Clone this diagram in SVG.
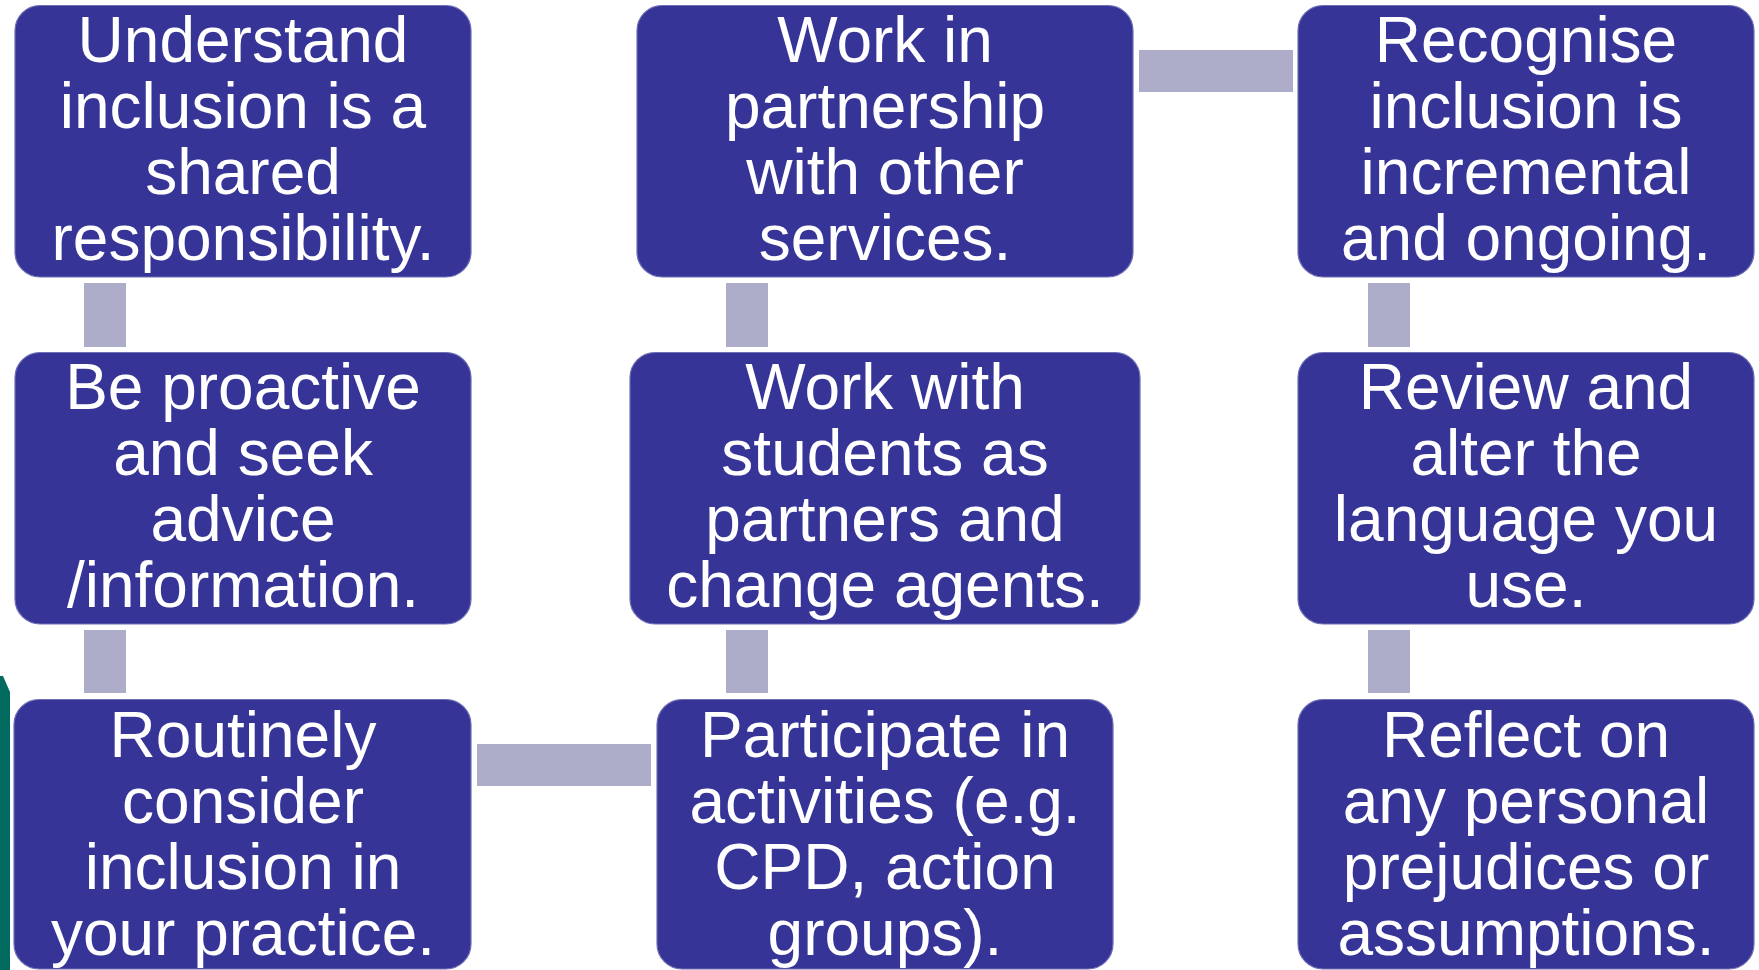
<svg xmlns="http://www.w3.org/2000/svg" width="1759" height="970" viewBox="0 0 1759 970">
<style>
.box{fill:#363597;stroke:#6F6FB5;stroke-width:1.2}
.con{fill:#ADADCA}
.t{font-family:"Liberation Sans",Arial,sans-serif;font-size:64px;fill:#FFFFFF;text-anchor:middle}
</style>
<rect width="1759" height="970" fill="#FFFFFF"/>
<path d="M0 676 L3 676 L10 692 L10 970 L0 970 Z" fill="#006B5E"/>
<g id="connectors">
<rect class="con" x="84" y="283" width="42" height="64"/>
<rect class="con" x="84" y="630" width="42" height="63"/>
<rect class="con" x="477" y="744" width="174" height="42"/>
<rect class="con" x="726" y="630" width="42" height="63"/>
<rect class="con" x="726" y="283" width="42" height="64"/>
<rect class="con" x="1139" y="50" width="154" height="42"/>
<rect class="con" x="1368" y="283" width="42" height="64"/>
<rect class="con" x="1368" y="630" width="42" height="63"/>
</g>
<g id="n1">
<rect class="box" x="15" y="5.5" width="456" height="271.5" rx="25"/>
<text class="t" x="243" y="62">Understand</text>
<text class="t" x="243" y="128">inclusion is a</text>
<text class="t" x="243" y="194">shared</text>
<text class="t" x="243" y="260">responsibility.</text>
</g>
<g id="n2">
<rect class="box" x="637" y="5.5" width="496" height="271.5" rx="25"/>
<text class="t" x="885" y="62">Work in</text>
<text class="t" x="885" y="128">partnership</text>
<text class="t" x="885" y="194">with other</text>
<text class="t" x="885" y="260">services.</text>
</g>
<g id="n3">
<rect class="box" x="1298" y="5.5" width="456" height="271.5" rx="25"/>
<text class="t" x="1526" y="62">Recognise</text>
<text class="t" x="1526" y="128">inclusion is</text>
<text class="t" x="1526" y="194">incremental</text>
<text class="t" x="1526" y="260">and ongoing.</text>
</g>
<g id="n4">
<rect class="box" x="15" y="352.5" width="456" height="271.5" rx="25"/>
<text class="t" x="243" y="409">Be proactive</text>
<text class="t" x="243" y="475">and seek</text>
<text class="t" x="243" y="541">advice</text>
<text class="t" x="243" y="607">/information.</text>
</g>
<g id="n5">
<rect class="box" x="630" y="352.5" width="510" height="271.5" rx="25"/>
<text class="t" x="885" y="409">Work with</text>
<text class="t" x="885" y="475">students as</text>
<text class="t" x="885" y="541">partners and</text>
<text class="t" x="885" y="607">change agents.</text>
</g>
<g id="n6">
<rect class="box" x="1298" y="352.5" width="456" height="271.5" rx="25"/>
<text class="t" x="1526" y="409">Review and</text>
<text class="t" x="1526" y="475">alter the</text>
<text class="t" x="1526" y="541">language you</text>
<text class="t" x="1526" y="607">use.</text>
</g>
<g id="n7">
<rect class="box" x="14" y="699.5" width="457" height="269.5" rx="25"/>
<text class="t" x="243" y="757">Routinely</text>
<text class="t" x="243" y="823">consider</text>
<text class="t" x="243" y="889">inclusion in</text>
<text class="t" x="243" y="955">your practice.</text>
</g>
<g id="n8">
<rect class="box" x="657" y="699.5" width="456" height="269.5" rx="25"/>
<text class="t" x="885" y="757">Participate in</text>
<text class="t" x="885" y="823">activities (e.g.</text>
<text class="t" x="885" y="889">CPD, action</text>
<text class="t" x="885" y="955">groups).</text>
</g>
<g id="n9">
<rect class="box" x="1298" y="699.5" width="456" height="269.5" rx="25"/>
<text class="t" x="1526" y="757">Reflect on</text>
<text class="t" x="1526" y="823">any personal</text>
<text class="t" x="1526" y="889">prejudices or</text>
<text class="t" x="1526" y="955">assumptions.</text>
</g>
</svg>
